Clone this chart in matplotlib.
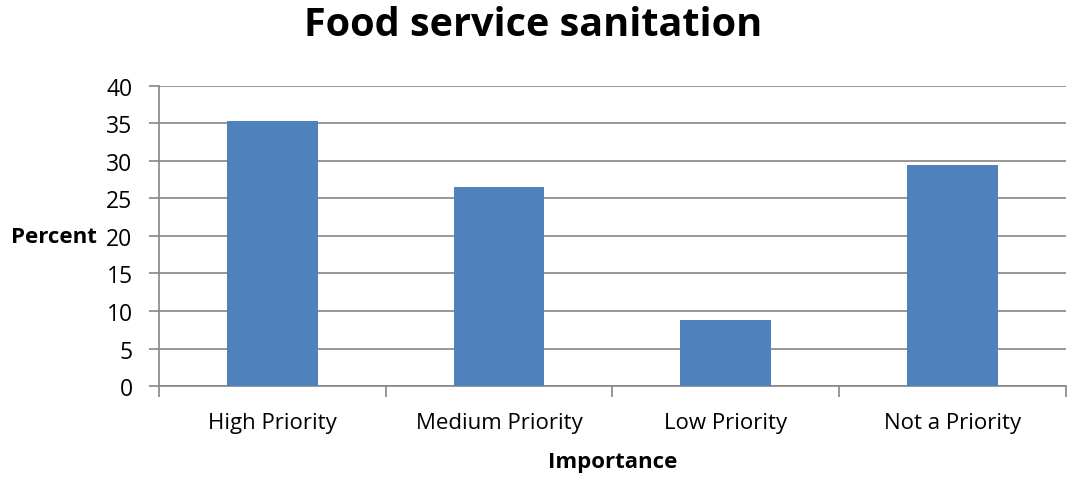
import matplotlib.pyplot as plt
import numpy as np

plt.rcParams['font.family'] = ['Open Sans', 'DejaVu Sans']

# Survey responses
categories = ['High Priority', 'Medium Priority', 'Low Priority', 'Not a Priority']
percent = [35.29, 26.47, 8.82, 29.41]
y_ticks = [0, 5, 10, 15, 20, 25, 30, 35, 40]

grey = '#868686'

fig = plt.figure(figsize=(10.67, 4.81), dpi=100)
ax = fig.add_axes([0.149, 0.1954, 0.850, 0.6238])

x = np.arange(len(categories))
ax.bar(x, percent, width=0.4, color='#4F81BD', zorder=3)

ax.set_xlim(-0.5, len(categories) - 0.5)
ax.set_ylim(0, 40)
ax.set_yticks(y_ticks)
ax.set_yticklabels([str(t) for t in y_ticks], fontsize=16.5)
ax.set_xticks(x)
ax.set_xticklabels(categories, fontsize=16)
ax.tick_params(axis='x', length=0, pad=19)
ax.tick_params(axis='y', length=7, color=grey, width=1.2, pad=12)

# category boundary ticks below the x axis
ax.set_xticks(np.arange(-0.5, len(categories)), minor=True)
ax.tick_params(axis='x', which='minor', length=8, color=grey, width=1.2)

ax.grid(axis='y', color=grey, linewidth=1.2, zorder=0)
for side in ['top', 'right']:
    ax.spines[side].set_visible(False)
for side in ['left', 'bottom']:
    ax.spines[side].set_color(grey)
    ax.spines[side].set_linewidth(1.2)

ax.set_xlabel('Importance', fontsize=16, fontweight='bold')
ax.xaxis.set_label_coords(0.5, -0.253)
ax.xaxis.label.set_va('center')
ax.set_ylabel('Percent', fontsize=16, fontweight='bold', rotation=0,
              ha='right', va='center')
ax.yaxis.set_label_coords(-0.069, 0.497)
fig.text(0.5, 0.948, 'Food service sanitation', fontsize=28.5,
         fontweight='bold', ha='center', va='center')

fig.savefig('out.png', dpi=100)
